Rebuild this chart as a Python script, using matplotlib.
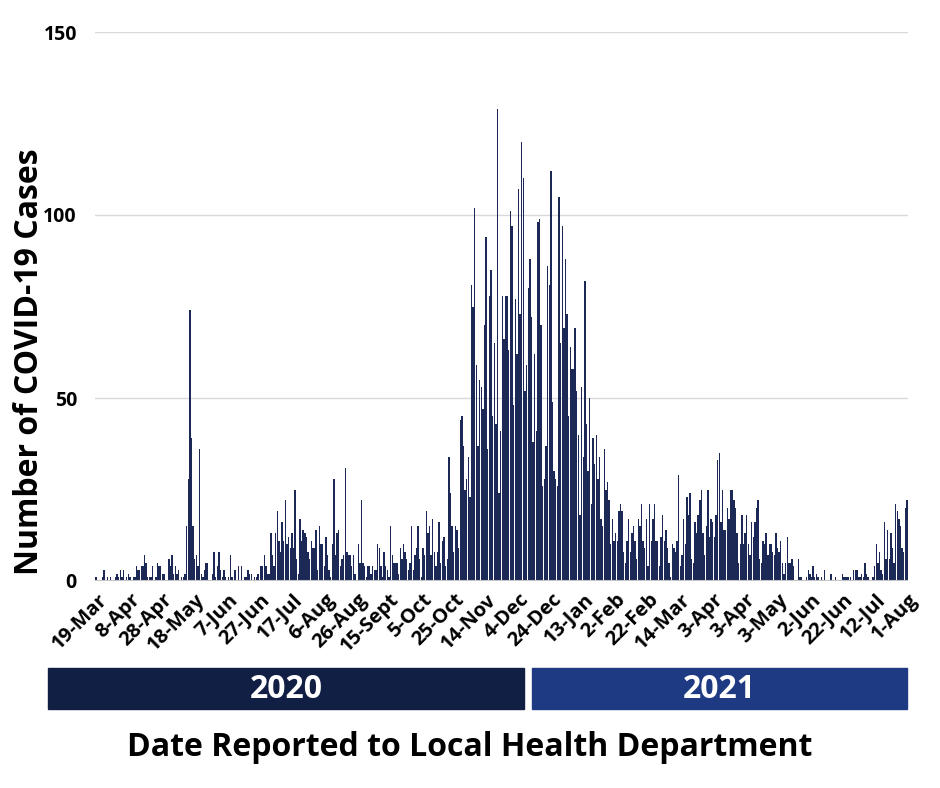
import matplotlib
matplotlib.use('Agg')
import matplotlib.pyplot as plt
from matplotlib.patches import Rectangle
import matplotlib.transforms as mtransforms

plt.rcParams['font.family'] = ['Open Sans', 'DejaVu Sans']
plt.rcParams['font.weight'] = 'bold'

# daily case counts, 19-Mar-2020 .. 1-Aug-2021
cases_spring20 = [1, 0, 0, 0, 1, 3, 0, 1, 0, 1, 0, 0, 1, 2, 1, 3, 1, 3, 0, 1,
                  2, 1, 0, 1, 1, 4, 3, 3, 4, 4, 7, 5, 1, 1, 1, 4, 0, 1, 5, 4,
                  4, 2, 2, 0, 0, 6, 4, 7, 2, 4, 2, 3, 0, 1, 1, 2, 15, 28, 74, 39,
                  15, 6, 7, 4, 36, 2, 1, 3, 5, 5, 0, 0, 2, 8, 1, 4, 8, 3, 1, 3,
                  1, 0, 1, 7, 1, 0, 3]
cases_summer20 = [0, 4, 0, 4, 0, 1, 1, 3, 2, 2, 0, 1, 1, 2, 0, 4, 4, 7, 4, 2,
                  2, 13, 7, 4, 13, 19, 11, 8, 16, 11, 22, 10, 12, 9, 13, 9, 25, 6, 2,
                  17, 11, 14, 13, 12, 8, 6, 11, 9, 9, 14, 3, 15, 10, 10, 4, 12, 7, 3,
                  1, 10, 28, 7, 13, 14, 4, 6, 7, 31, 8, 7, 7, 4, 7, 2, 0, 10, 5, 22,
                  5, 4, 1, 4]
cases_fall20 = [4, 2, 4, 3, 3, 10, 9, 4, 1, 8, 4, 3, 1, 15, 7, 5, 5, 5, 2, 9,
                6, 10, 8, 6, 3, 5, 15, 3, 7, 9, 15, 6, 1, 9, 7, 19, 13, 15, 7, 17,
                8, 4, 8, 16, 5, 11, 12, 4, 6, 34, 24, 15, 8, 15, 14, 9]
cases_peak = [44, 45, 37, 25, 28, 34, 23, 81, 75, 102, 59, 37, 55, 53, 47, 70, 94, 36, 78, 85,
              45, 65, 43, 129, 24, 41, 78, 66, 78, 78, 63, 101, 97, 48, 77, 62, 107, 73, 120, 110,
              52, 59, 80, 88, 72, 38, 62, 41, 98, 99, 70, 26, 28, 37, 86, 81, 112, 49, 30, 28,
              26, 105]
cases_winter21 = [65, 97, 69, 88, 73, 45, 64, 58, 58, 69, 52, 40, 18, 53, 34, 82, 43, 30, 50, 21,
                  39, 32, 40, 28, 34, 17, 15, 36, 25, 27, 22, 10, 17, 11, 13, 11, 19, 21, 19, 8,
                  5, 11, 17, 8, 13, 15, 11, 6, 17, 15, 21, 11, 9, 17, 4, 21, 11]
cases_spring21 = [17, 21, 11, 11, 4, 12, 18, 11, 14, 9, 5, 1, 10, 9, 8, 11, 29, 4, 7, 17,
                  10, 23, 18, 24, 6, 5, 16, 13, 18, 22, 25, 13, 7, 15, 25, 12, 17, 16, 12, 18,
                  33, 35, 16, 25, 14, 14, 20, 17, 25, 25, 22, 20, 13, 5, 10, 18, 10, 13, 18, 10,
                  7, 16, 12, 16, 20, 22, 6, 5, 11, 10, 13, 7, 10, 10, 8, 7, 13, 9, 8, 11,
                  5, 2, 5, 12]
cases_summer21 = [5, 5, 6, 4, 0, 0, 6, 1, 1, 0, 0, 1, 3, 2, 1, 4, 1, 2, 1, 0,
                  1, 0, 3, 0, 0, 0, 2, 0, 0, 1, 0, 0, 0, 2, 1, 1, 1, 1, 1, 0,
                  3, 3, 3, 1, 1, 2, 1, 5, 2, 1, 0, 0, 1, 4, 10, 5, 8, 3, 2, 16,
                  6, 14, 6, 13, 9, 5, 21, 19, 17, 15, 9, 8, 20, 22]

cases = (cases_spring20 + cases_summer20 + cases_fall20 + cases_peak
         + cases_winter21 + cases_spring21 + cases_summer21)

tick_labels = ['19-Mar', '8-Apr', '28-Apr', '18-May', '7-Jun', '27-Jun', '17-Jul',
               '6-Aug', '26-Aug', '15-Sept', '5-Oct', '25-Oct', '14-Nov', '4-Dec',
               '24-Dec', '13-Jan', '2-Feb', '22-Feb', '14-Mar', '3-Apr', '3-Apr',
               '3-May', '2-Jun', '22-Jun', '12-Jul', '1-Aug']
years = ['2020', '2021']

bar_color = '#1c2856'
year_colors = ['#121f45', '#1e3a82']

fig = plt.figure(figsize=(9.4, 7.88), dpi=100)
ax = fig.add_axes([95 / 940, 1 - 581 / 788, 813 / 940, 549 / 788])

x = list(range(len(cases)))
ax.bar(x, cases, width=0.86, color=bar_color, zorder=3)

ax.set_ylim(0, 150)
ax.set_xlim(-0.6, len(cases) - 0.4)
ax.set_yticks([0, 50, 100, 150])
ax.yaxis.grid(True, color='#d9d9d9', linewidth=1, zorder=0)
ax.axhline(0, color='#c4c4c4', linewidth=1.5, zorder=4)
for s in ax.spines.values():
    s.set_visible(False)
ax.tick_params(length=0, labelsize=14)
ax.tick_params(axis='y', pad=13)

ax.set_xticks([i * 20 for i in range(len(tick_labels))])
ax.set_xticklabels(tick_labels, rotation=45, ha='right', rotation_mode='anchor',
                   fontsize=14.5, fontweight='bold')
offset = mtransforms.ScaledTranslation(2 / 100, -4 / 100, fig.dpi_scale_trans)
for lab in ax.get_xticklabels():
    lab.set_transform(lab.get_transform() + offset)
for lab in ax.get_yticklabels():
    lab.set_fontweight('bold')

fig.text(30 / 940, 1 - 362 / 788, 'Number of COVID-19 Cases', rotation=90,
         ha='center', va='center', fontsize=23, fontweight='bold')

# year bands under the axis
boxes = [(48, 524), (532, 907)]
for (x0, x1), yr, c in zip(boxes, years, year_colors):
    fig.patches.append(Rectangle((x0 / 940, 1 - 709 / 788), (x1 - x0) / 940, 41 / 788,
                                 transform=fig.transFigure, color=c, zorder=1))
    fig.text((x0 + x1) / 2 / 940, 1 - 689 / 788, yr, ha='center', va='center',
             color='white', fontsize=23, fontweight='bold')

fig.text(470 / 940, 1 - 748 / 788, 'Date Reported to Local Health Department',
         ha='center', va='center', fontsize=23, fontweight='bold')

fig.savefig('out.png', dpi=100)
